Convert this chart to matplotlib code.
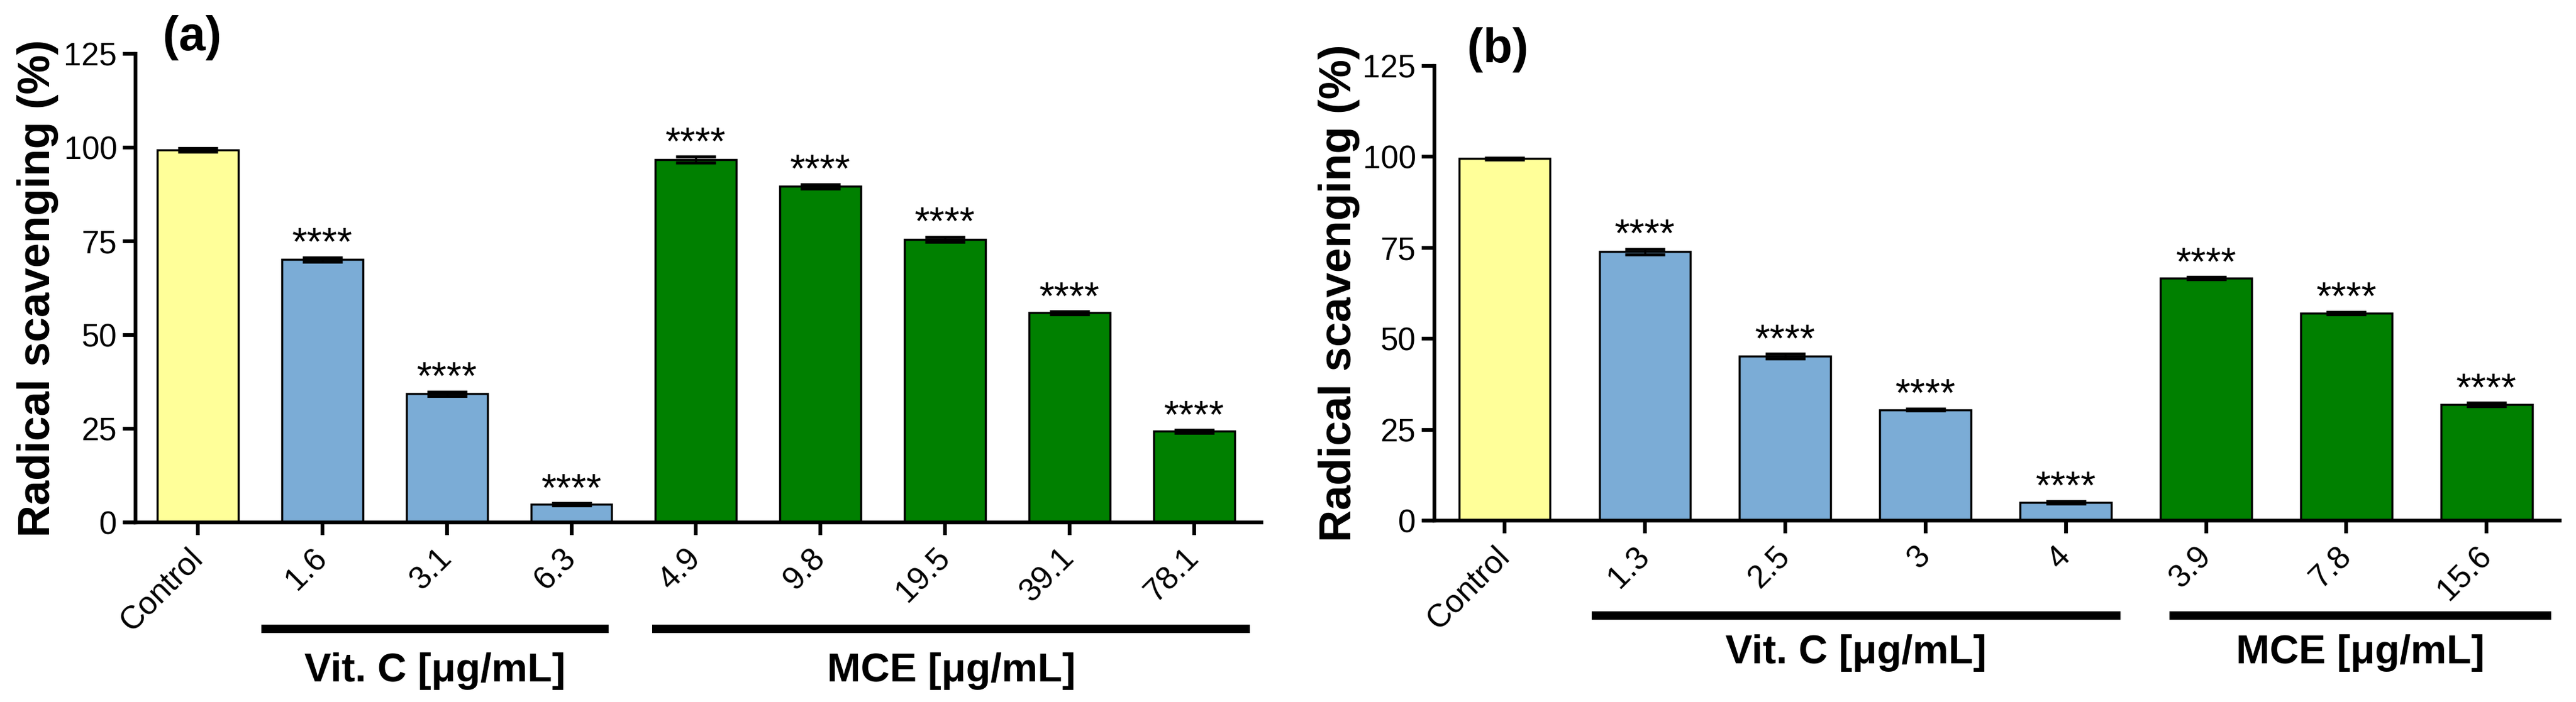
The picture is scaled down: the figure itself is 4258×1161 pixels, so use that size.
import numpy as np
import matplotlib
matplotlib.use('Agg')
import matplotlib.pyplot as plt
from matplotlib.transforms import blended_transform_factory

plt.rcParams['font.family'] = ['Liberation Sans', 'DejaVu Sans']

# panel (a) data
a_labels = ['Control', '1.6', '3.1', '6.3', '4.9', '9.8', '19.5', '39.1', '78.1']
a_means = [99.4, 70.1, 34.3, 4.8, 96.8, 89.6, 75.5, 55.9, 24.3]
a_err = [0.5, 0.6, 0.6, 0.3, 0.8, 0.6, 0.7, 0.4, 0.4]
a_kind = ['ctrl', 'vitc', 'vitc', 'vitc', 'mce', 'mce', 'mce', 'mce', 'mce']
a_stars = ['', '****', '****', '****', '****', '****', '****', '****', '****']

# panel (b) data
b_labels = ['Control', '1.3', '2.5', '3', '4', '3.9', '7.8', '15.6']
b_means = [99.5, 73.9, 45.2, 30.5, 5.0, 66.7, 57.0, 31.9]
b_err = [0.3, 0.8, 0.6, 0.3, 0.4, 0.3, 0.4, 0.5]
b_kind = ['ctrl', 'vitc', 'vitc', 'vitc', 'vitc', 'mce', 'mce', 'mce']
b_stars = ['', '****', '****', '****', '****', '****', '****', '****']

group_names = {'vitc': 'Vit. C [\u03bcg/mL]', 'mce': 'MCE [\u03bcg/mL]'}
colors = {'ctrl': '#FFFF99', 'vitc': '#7BACD6', 'mce': '#008000'}

W, H = 4258, 1161
fig = plt.figure(figsize=(W / 100, H / 100), dpi=100)


def panel(rect, labels, means, err, kind, stars, letter, letter_xy,
          xmax, pads, line_y, text_y, ylab_x):
    ax = fig.add_axes(rect)
    x = np.arange(len(labels))
    ax.bar(x, means, width=0.65, color=[colors[k] for k in kind],
           edgecolor='black', linewidth=2.5, zorder=2)
    ax.errorbar(x, means, yerr=err, fmt='none', ecolor='black',
                elinewidth=2.5, capsize=24, capthick=3.5, zorder=3)
    for xi, m, e, s in zip(x, means, err, stars):
        if s:
            ax.annotate(s, (xi, m + e), xytext=(0, 3), textcoords='offset points',
                        ha='center', va='baseline', fontsize=46)

    ax.set_xlim(-0.5, xmax)
    ax.set_ylim(0, 125)
    ax.set_yticks([0, 25, 50, 75, 100, 125])
    ax.set_xticks(x)
    ax.set_xticklabels(labels, rotation=45, ha='right', va='center',
                       rotation_mode='anchor')
    ax.tick_params(axis='both', labelsize=38, width=4.5, length=15)
    ax.tick_params(axis='x', pad=22)
    ax.tick_params(axis='y', pad=7)
    for side in ['top', 'right']:
        ax.spines[side].set_visible(False)
    for side in ['left', 'bottom']:
        ax.spines[side].set_linewidth(4.5)
    # x axis runs on under the y ticks, as in the original
    ext = 20 / (rect[2] * W)
    ax.plot([-ext, 0], [0, 0], color='black', linewidth=4.5,
            solid_capstyle='butt', transform=ax.transAxes, clip_on=False)

    ax.set_ylabel('Radical scavenging (%)', fontsize=53, fontweight='bold')
    ax.yaxis.set_label_coords(ylab_x, 0.5)

    # group bars under the tick labels
    trans = blended_transform_factory(ax.transData, fig.transFigure)
    for name, (pl, pr) in pads.items():
        idx = [i for i, k in enumerate(kind) if k == name]
        x0, x1 = idx[0] - pl, idx[-1] + pr
        ax.plot([x0, x1], [line_y, line_y], color='black', linewidth=10,
                solid_capstyle='butt', transform=trans, clip_on=False)
        ax.text((x0 + x1) / 2, text_y, group_names[name], transform=trans,
                ha='center', va='center', fontsize=48, fontweight='bold')

    fig.text(letter_xy[0], letter_xy[1], letter, fontsize=57,
             fontweight='bold', ha='center', va='center')
    return ax


panel([224 / W, 1 - 864 / H, (2085 - 224) / W, (864 - 89) / H],
      a_labels, a_means, a_err, a_kind, a_stars, '(a)',
      (318 / W, 1 - 62 / H), 8.54,
      {'vitc': (0.49, 0.30), 'mce': (0.35, 0.45)},
      1 - 1040 / H, 1 - 1110 / H, -0.068)

panel([2371 / W, 1 - 861 / H, (4231 - 2371) / W, (861 - 109) / H],
      b_labels, b_means, b_err, b_kind, b_stars, '(b)',
      (2476 / W, 1 - 82 / H), 7.52,
      {'vitc': (0.38, 0.39), 'mce': (0.26, 0.46)},
      1 - 1018 / H, 1 - 1080 / H, -0.066)

fig.savefig('out.png', dpi=100, facecolor='white')
